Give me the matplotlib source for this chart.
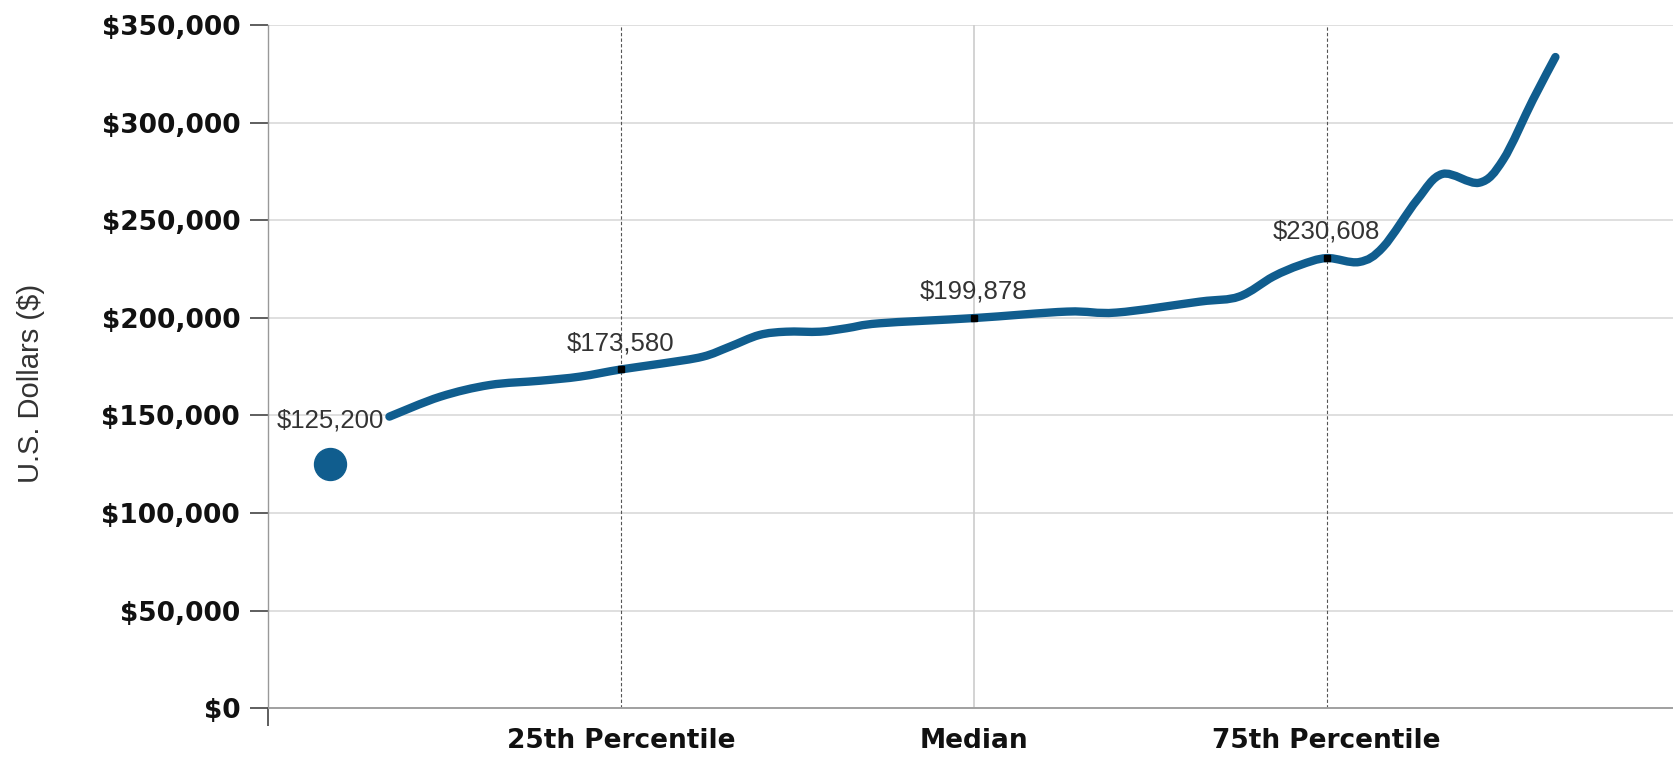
import numpy as np
import matplotlib.pyplot as plt
from matplotlib.path import Path
from matplotlib.patches import PathPatch
from matplotlib.ticker import FuncFormatter

# salary curve across the percentile range
pct = [8.6, 12.2, 15.7, 19.3, 22.1, 25.0, 28.0, 30.8, 32.7, 34.8, 36.7, 39.1,
       41.0, 43.3, 50.0, 56.6, 60.1, 66.0, 68.8, 71.2, 73.1, 75.0, 77.3, 79.0,
       81.4, 83.2, 85.8, 87.5, 89.6, 91.2]
salary = [149400, 159600, 165600, 167800, 169900, 173580, 176700, 180100,
          185200, 191200, 192900, 192900, 194700, 197200, 199878, 203200,
          202700, 208300, 210900, 221100, 227000, 230608, 228600, 236300,
          260400, 273700, 269200, 281000, 311600, 333600]

# lowest salary, shown as a separate dot
min_pct = 4.4
min_salary = 125200

# marked percentiles
mark_pct = [25, 50, 75]
mark_salary = [173580, 199878, 230608]
mark_names = ['25th Percentile', 'Median', '75th Percentile']

blue = '#105d8e'

fig = plt.figure(figsize=(16.74, 7.57), dpi=100)
ax = fig.add_axes([268 / 1674, 48.7 / 757, 1406 / 1674, 683.3 / 757])
ax.set_xlim(0, 99.6)
ax.set_ylim(0, 350000)

# horizontal grid
for v in range(50000, 350001, 50000):
    ax.axhline(v, color='#d9d9d9', lw=1.2, zorder=0)
ax.axhline(0, color='#a0a0a0', lw=1.4, zorder=1, clip_on=False)

# percentile guide lines
for p, name in zip(mark_pct, mark_names):
    if name == 'Median':
        ax.axvline(p, color='#cccccc', lw=1.2, zorder=0)
    else:
        ax.axvline(p, color='#555555', lw=0.8, ls=(0, (3, 2)), zorder=0)


# smooth curve through the points (Catmull-Rom as cubic Bezier)
def smooth_path(xs, ys):
    pts = np.column_stack([xs, ys]).astype(float)
    pts = np.vstack([pts[0], pts, pts[-1]])
    verts = [pts[1]]
    codes = [Path.MOVETO]
    for i in range(1, len(pts) - 2):
        p0, p1, p2, p3 = pts[i - 1], pts[i], pts[i + 1], pts[i + 2]
        c1 = p1 + (p2 - p0) / 6
        c2 = p2 - (p3 - p1) / 6
        verts += [c1, c2, p2]
        codes += [Path.CURVE4] * 3
    return Path(verts, codes)


ax.add_patch(PathPatch(smooth_path(pct, salary), fill=False, edgecolor=blue,
                       lw=6, capstyle='round', joinstyle='round', zorder=3))

ax.plot(mark_pct, mark_salary, 's', color='black', ms=4.5, zorder=4)
ax.plot([min_pct], [min_salary], 'o', color=blue, ms=23, zorder=4)

for p, v in zip(mark_pct, mark_salary):
    ax.annotate(f'${v:,}', (p, v), xytext=(0, 19), textcoords='offset points',
                ha='center', va='center', fontsize=18.5, color='#333333',
                family='Liberation Sans', zorder=5)
ax.annotate(f'${min_salary:,}', (min_pct, min_salary), xytext=(0, 31),
            textcoords='offset points', ha='center', va='center',
            fontsize=18.5, color='#333333', family='Liberation Sans', zorder=5)

# axes styling
for s in ['top', 'right', 'bottom']:
    ax.spines[s].set_visible(False)
ax.spines['left'].set_color('#999999')
ax.spines['left'].set_linewidth(1.0)

ax.set_yticks(range(0, 350001, 50000))
ax.yaxis.set_major_formatter(FuncFormatter(lambda v, _: f'${int(v):,}'))
ax.tick_params(axis='y', length=13, width=1.1, color='#333333', pad=7,
               labelsize=19, labelcolor='#111111')
for lbl in ax.get_yticklabels():
    lbl.set_fontweight('bold')

ax.set_xticks(mark_pct)
ax.set_xticklabels(mark_names, fontsize=19, fontweight='bold', color='#111111')
ax.tick_params(axis='x', length=0, pad=14)
ax.set_xticks([0], minor=True)
ax.tick_params(axis='x', which='minor', length=13, width=1.1, color='#333333')

ax.set_ylabel('U.S. Dollars ($)', fontsize=21, family='Liberation Sans',
              color='#333333')
ax.yaxis.set_label_coords(-(268 - 45) / 1406, 0.475)

fig.savefig('out.png', dpi=100)
